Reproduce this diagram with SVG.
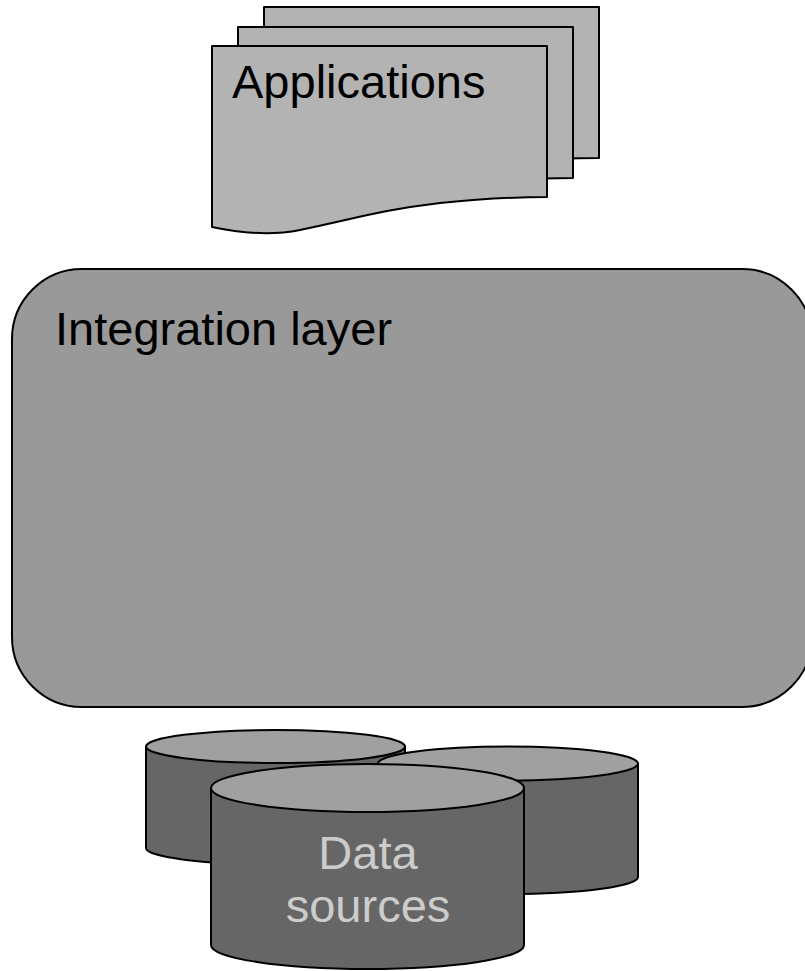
<svg xmlns="http://www.w3.org/2000/svg" width="805" height="971" viewBox="0 0 805 971">
<style>
.doc{fill:#b3b3b3;stroke:#000;stroke-width:2;stroke-linejoin:round}
.layer{fill:#999999;stroke:#000;stroke-width:2}
.body{fill:#666666;stroke:#000;stroke-width:2;stroke-linejoin:round}
.top{fill:#a0a0a0;stroke:#000;stroke-width:2}
.lbl{font-family:"Liberation Sans",Arial,sans-serif;font-size:47px;fill:#000}
.lbl2{font-family:"Liberation Sans",Arial,sans-serif;font-size:47px;fill:#cccccc;text-anchor:middle}
</style>
<defs>
<path id="docshape" d="M212,46 H547 V197 C520,197 480,199 440,203 C380,210 350,220 300,230 C270,236 240,233 212,227 Z"/>
</defs>
<g id="applications">
<use href="#docshape" class="doc" transform="translate(52,-39)"/>
<use href="#docshape" class="doc" transform="translate(26,-19)"/>
<use href="#docshape" class="doc"/>
<text class="lbl" x="232" y="98">Applications</text>
</g>
<g id="integration-layer">
<rect class="layer" x="12" y="269" width="800" height="438" rx="70" ry="70"/>
<text class="lbl" x="55" y="345">Integration layer</text>
</g>
<g id="data-sources">
<path class="body" d="M146,746.5 V848 A129.5,16.5 0 0 0 405,848 V746.5 Z"/>
<ellipse class="top" cx="275.5" cy="746.5" rx="129.5" ry="16.5"/>
<path class="body" d="M378,763.5 V877 A130,17 0 0 0 638,877 V763.5 Z"/>
<ellipse class="top" cx="508" cy="763.5" rx="130" ry="17"/>
<path class="body" d="M211,788 V945 A156.5,24 0 0 0 524,945 V788 Z"/>
<ellipse class="top" cx="367.5" cy="788" rx="156.5" ry="24"/>
<text class="lbl2" x="368" y="869">Data</text>
<text class="lbl2" x="368" y="922">sources</text>
</g>
<g id="connectors"></g>
</svg>
